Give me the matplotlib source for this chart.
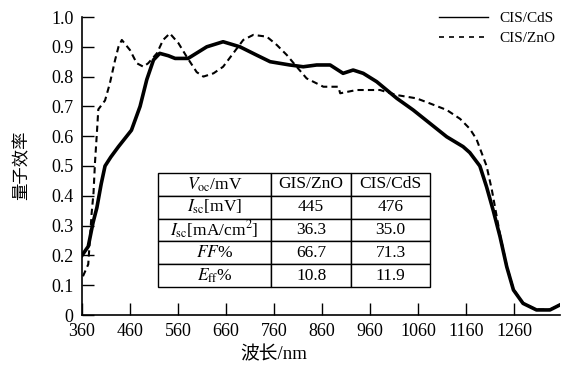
import matplotlib
matplotlib.use("Agg")
import matplotlib.pyplot as plt
from matplotlib.lines import Line2D

plt.rcParams['font.family'] = ['Liberation Serif', 'Noto Sans CJK SC']
plt.rcParams['mathtext.fontset'] = 'stix'

# CIS/CdS (solid)
cds_nm = [360, 373, 383, 391, 400, 408, 420, 436, 463, 481, 495, 509, 522, 540, 554, 581,
          600, 620, 654, 689, 724, 752, 793, 821, 849, 877, 904, 925, 946, 974, 995, 1016,
          1050, 1085, 1120, 1154, 1168, 1189, 1203, 1217, 1231, 1245, 1259, 1279, 1307, 1335, 1356]
cds_qe = [0.20, 0.23, 0.31, 0.36, 0.44, 0.50, 0.53, 0.565, 0.62, 0.70, 0.79, 0.856, 0.878, 0.87, 0.861, 0.861,
          0.88, 0.90, 0.917, 0.90, 0.872, 0.85, 0.839, 0.833, 0.839, 0.839, 0.811, 0.822, 0.811, 0.783, 0.755, 0.727,
          0.688, 0.643, 0.598, 0.565, 0.545, 0.50, 0.43, 0.35, 0.263, 0.162, 0.084, 0.039, 0.017, 0.017, 0.034]

# CIS/ZnO (dashed)
zno_nm = [362, 373, 380, 384, 387, 391, 394, 408, 418, 429, 436, 443, 460, 474, 488, 498, 516, 529,
          543, 561, 578, 599, 613, 634, 654, 675, 696, 717, 745, 766, 787, 801, 828, 863, 894, 898,
          932, 981, 1016, 1057, 1085, 1120, 1148, 1168, 1182, 1203, 1214, 1231, 1245, 1259, 1279,
          1307, 1335, 1356]
zno_qe = [0.13, 0.17, 0.34, 0.41, 0.51, 0.61, 0.69, 0.72, 0.777, 0.856, 0.90, 0.923, 0.889, 0.845, 0.833,
          0.845, 0.878, 0.923, 0.945, 0.912, 0.867, 0.815, 0.80, 0.811, 0.833, 0.878, 0.923, 0.94, 0.934,
          0.906, 0.872, 0.845, 0.794, 0.766, 0.766, 0.744, 0.755, 0.755, 0.738, 0.727, 0.71, 0.688, 0.658,
          0.625, 0.59, 0.50, 0.42, 0.27, 0.165, 0.087, 0.04, 0.018, 0.018, 0.035]

xticks = [360, 460, 560, 660, 760, 860, 960, 1060, 1160, 1260]
yticks = [0, 0.1, 0.2, 0.3, 0.4, 0.5, 0.6, 0.7, 0.8, 0.9, 1.0]
ytick_labels = ['0', '0.1', '0.2', '0.3', '0.4', '0.5', '0.6', '0.7', '0.8', '0.9', '1.0']

table_rows = [
    [r'$V_{\rm oc}$/mV', 'GIS/ZnO', 'CIS/CdS'],
    [r'$I_{\rm sc}$[mV]', '445', '476'],
    [r'$I_{\rm sc}$[mA/cm$^2$]', '36.3', '35.0'],
    [r'$FF$%', '66.7', '71.3'],
    [r'$E_{\rm ff}$%', '10.8', '11.9'],
]

fig = plt.figure(figsize=(5.70, 3.69), dpi=100)
ax = fig.add_axes([82/570, 1-315/369, (560-82)/570, (315-17)/369])

ax.plot(cds_nm, cds_qe, color='black', lw=2.6, solid_joinstyle='round')
ax.plot(zno_nm, zno_qe, color='black', lw=1.5, linestyle=(0, (3, 2)))

ax.set_xlim(360, 1356)
ax.set_ylim(0, 1.0)
ax.set_xticks(xticks)
ax.set_xticklabels([str(t) for t in xticks])
ax.set_yticks(yticks)
ax.set_yticklabels(ytick_labels)
ax.tick_params(direction='in', length=8.5, width=1, labelsize=13, pad=6)
for s in ['top', 'right']:
    ax.spines[s].set_visible(False)
for s in ['left', 'bottom']:
    ax.spines[s].set_linewidth(1.2)

ax.set_xlabel('波长/nm', fontsize=13.5)
ax.xaxis.set_label_coords((274-82)/478, (315-355)/298)
ax.xaxis.label.set_va('center')
ax.set_ylabel('量子效率', fontsize=12.5)
ax.yaxis.set_label_coords((22-82)/478, (315-165)/298)
ax.yaxis.label.set_va('center')

handles = [Line2D([], [], color='black', lw=1.0),
           Line2D([], [], color='black', lw=1.2, linestyle=(0, (3, 3)))]
leg = ax.legend(handles, ['CIS/CdS', 'CIS/ZnO'], loc='upper right', frameon=False,
                fontsize=11, handlelength=3.2, bbox_to_anchor=(1.02, 1.065),
                labelspacing=0.4)

tb = ax.table(cellText=table_rows, cellLoc='center',
              colWidths=[112, 80, 78],
              bbox=[(158-82)/478, (315-287)/298, (430-158)/478, (287-173)/298])
tb.auto_set_font_size(False)
tb.set_fontsize(12.5)
for (r, c), cell in tb.get_celld().items():
    cell.set_linewidth(1.0)
    cell.set_edgecolor('black')

fig.savefig('out.png', dpi=100)
